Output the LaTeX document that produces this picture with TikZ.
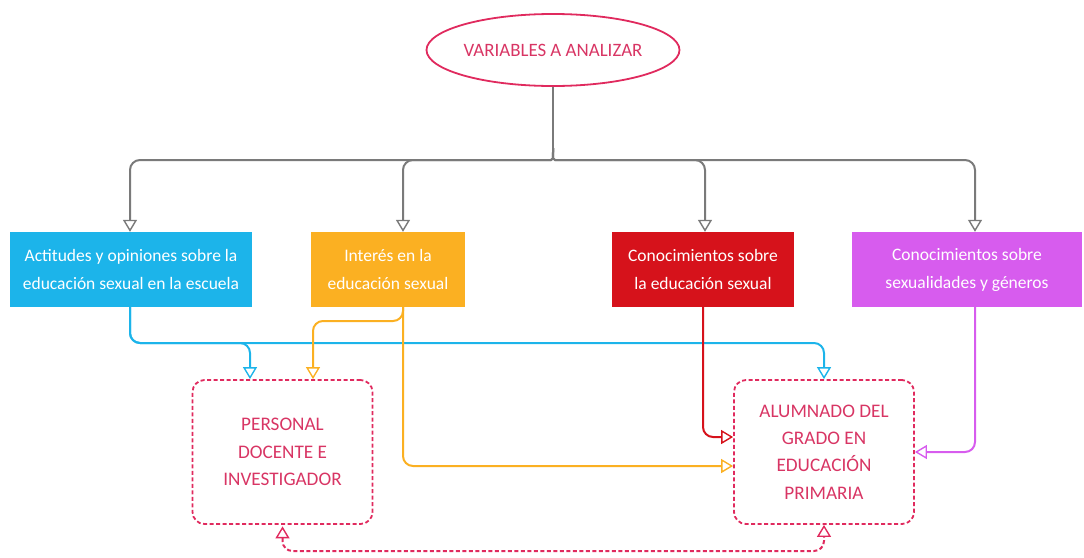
\documentclass[tikz,border=0pt]{standalone}
\usepackage{fontspec}
\setmainfont{Carlito}
\usetikzlibrary{arrows.meta,shapes.geometric}
\definecolor{cblue}{HTML}{1CB4EA}
\definecolor{corange}{HTML}{FBB022}
\definecolor{cred}{HTML}{D6121B}
\definecolor{cpurple}{HTML}{D75CEE}
\definecolor{cgray}{HTML}{7A7A7A}
\definecolor{cpink}{HTML}{E02A5E}
\definecolor{ctext}{HTML}{D83564}
\tikzset{
  varbox/.style={rectangle, inner sep=0pt, text=white, align=center, font=\fontsize{17.5}{28}\selectfont},
  grpbox/.style={rectangle, draw=cpink, line width=1.8pt, dash pattern=on 4pt off 2.5pt, rounded corners=12pt, inner sep=0pt, text=ctext, align=center, font=\fontsize{19.2}{27.3}\selectfont, minimum width=180pt, minimum height=144pt},
  conn/.style={line width=2pt, rounded corners=10pt, -{Triangle[open, length=12pt, width=14pt, line width=1.4pt]}},
}
\begin{document}
\begin{tikzpicture}[x=1pt,y=-1pt]
\useasboundingbox (0,0) rectangle (1084,557);
% root
\node[ellipse, draw=cpink, line width=1.8pt, minimum width=240pt, minimum height=72pt, inner sep=0pt, text=ctext, font=\fontsize{18.9}{22}\selectfont] (root) at (553,50) {VARIABLES A ANALIZAR};
% variable boxes
\node[varbox, fill=cblue, minimum width=242pt, minimum height=75pt] (b1) at (131,269.5) {Actitudes y opiniones sobre la\\educación sexual en la escuela};
\node[varbox, fill=corange, minimum width=154pt, minimum height=75pt] (b2) at (388,269.5) {Interés en la\\educación sexual};
\node[varbox, fill=cred, minimum width=182pt, minimum height=75pt] (b3) at (703,269.5) {Conocimientos sobre\\la educación sexual};
\node[varbox, fill=cpurple, minimum width=230pt, minimum height=75pt] (b4) at (967,269.5) {Conocimientos sobre\\sexualidades y géneros};
% group boxes
\node[grpbox] (p1) at (282.5,452) {PERSONAL\\DOCENTE E\\INVESTIGADOR};
\node[grpbox] (p2) at (824,452) {ALUMNADO DEL\\GRADO EN\\EDUCACIÓN\\PRIMARIA};
% coordinates
\coordinate (j) at (553,148);
% gray connectors
\draw[cgray, line width=2pt] (root.south) -- (j);
\draw[cgray, conn] (j) .. controls (553,160) .. (541,160) -- (130,160) -- (b1.north -| 130,0);
\draw[cgray, conn] (j) .. controls (553,160) .. (541,160) -- (403,160) -- (b2.north -| 403,0);
\draw[cgray, conn] (j) .. controls (553,160) .. (565,160) -- (705,160) -- (b3.north -| 705,0);
\draw[cgray, conn] (j) .. controls (553,160) .. (565,160) -- (975,160) -- (b4.north -| 975,0);
% blue
\draw[cblue, conn] (b1.south -| 130,0) -- (130,343) -- (250,343) -- (p1.north -| 250,0);
\draw[cblue, conn] (b1.south -| 130,0) -- (130,343) -- (824,343) -- (p2.north -| 824,0);
% orange
\draw[corange, conn] (b2.south -| 403,0) -- (403,321) -- (313,321) -- (p1.north -| 313,0);
\draw[corange, conn] (b2.south -| 403,0) -- (403,466) -- (p2.west |- 0,466);
% red
\draw[cred, conn] (b3.south -| 703,0) -- (703,437) -- (p2.west |- 0,437);
% purple
\draw[cpurple, conn] (b4.south -| 975,0) -- (975,452) -- (p2.east |- 0,452);
% dashed bottom link
\draw[cpink, conn, dash pattern=on 4pt off 2.5pt, {Triangle[open, length=12pt, width=14pt, line width=1.4pt, sep]}-{Triangle[open, length=12pt, width=14pt, line width=1.4pt]}] (p1.south -| 282.5,0) -- (282.5,551) -- (824,551) -- (p2.south -| 824,0);
\end{tikzpicture}
\end{document}
